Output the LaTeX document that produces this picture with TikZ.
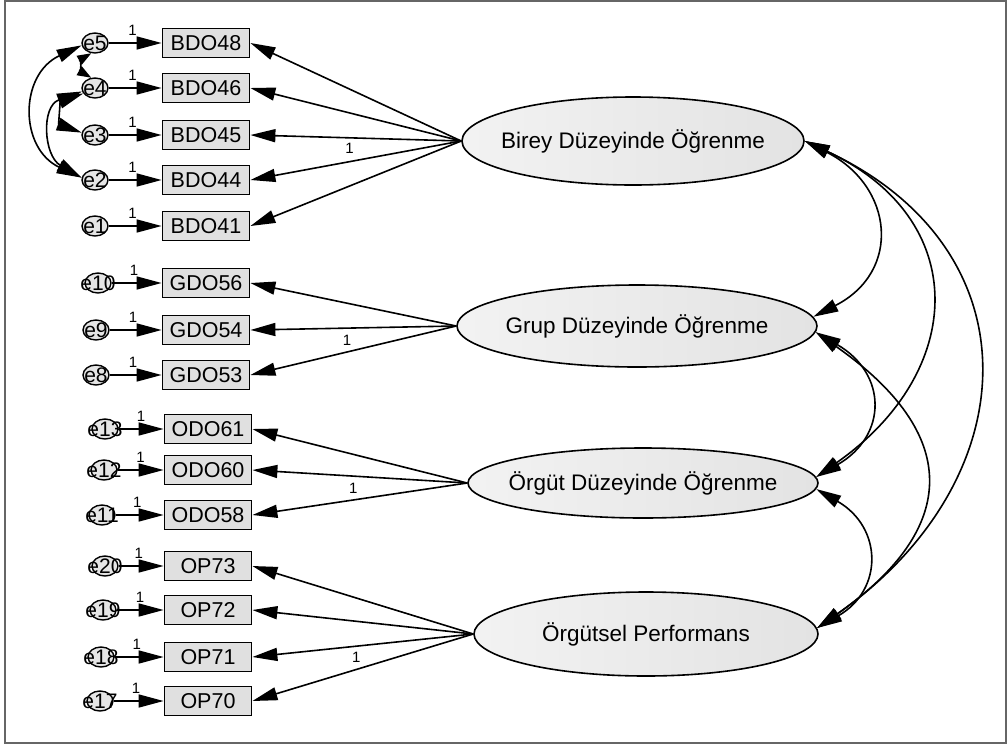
\documentclass[tikz,border=0pt]{standalone}
\usepackage{fontspec}
\setmainfont{Liberation Sans}
\usetikzlibrary{shapes.geometric, arrows.meta}

\begin{document}
\begin{tikzpicture}[
    x=1pt, y=1pt,
    obsbox/.style={draw, rectangle, line width=1.8pt, fill=gray!24, minimum width=87pt, minimum height=29pt, inner sep=0pt, font=\fontsize{21.5}{25}\selectfont},
    lattext/.style={font=\fontsize{22.5}{27}\selectfont, inner sep=0pt},
    latent/.style={draw, ellipse, line width=1.6pt, left color=gray!10, right color=gray!22, inner sep=0pt, label={[lattext]center:#1}},
    errtext/.style={font=\fontsize{21}{25}\selectfont, inner sep=0pt},
    errnode/.style={draw, ellipse, line width=1.4pt, fill=gray!20, minimum width=26pt, minimum height=20pt, inner sep=0pt, label={[errtext]center:#1}},
    loading/.style={-{Triangle[length=25pt, width=13pt]}, line width=1.6pt},
    covar/.style={{Triangle[length=25pt, width=13pt]}-{Triangle[length=25pt, width=13pt]}, line width=1.6pt},
    shortcovar/.style={{Triangle[length=14pt, width=10pt]}-{Triangle[length=14pt, width=10pt]}, line width=1.6pt},
    one/.style={font=\fontsize{15}{17}\selectfont, inner sep=1pt}
  ]
    \useasboundingbox (0,0) rectangle (1007,-745);
    \draw[gray!80!black, line width=1.5pt] (5,-1) rectangle (1006,-743);

    % latent variables
    \node[latent={Birey Düzeyinde Öğrenme}, minimum width=342pt, minimum height=88pt] (bir) at (633,-141) {};
    \node[latent={Grup Düzeyinde Öğrenme}, minimum width=360pt, minimum height=82pt] (grp) at (637,-326) {};
    \node[latent={Örgüt Düzeyinde Öğrenme}, minimum width=350pt, minimum height=70pt] (org) at (643,-483) {};
    \node[latent={Örgütsel Performans}, minimum width=344pt, minimum height=84pt] (perf) at (646,-634) {};

    % observed variables
    \node[obsbox] (bdo48) at (206,-43)  {BDO48};
    \node[obsbox] (bdo46) at (206,-88)  {BDO46};
    \node[obsbox] (bdo45) at (206,-135) {BDO45};
    \node[obsbox] (bdo44) at (206,-180) {BDO44};
    \node[obsbox] (bdo41) at (206,-226) {BDO41};
    \node[obsbox] (gdo56) at (206,-283) {GDO56};
    \node[obsbox] (gdo54) at (206,-330) {GDO54};
    \node[obsbox] (gdo53) at (206,-375) {GDO53};
    \node[obsbox] (odo61) at (208,-429) {ODO61};
    \node[obsbox] (odo60) at (208,-470) {ODO60};
    \node[obsbox] (odo58) at (208,-515) {ODO58};
    \node[obsbox] (op73)  at (208,-566) {OP73};
    \node[obsbox] (op72)  at (208,-610) {OP72};
    \node[obsbox] (op71)  at (208,-657) {OP71};
    \node[obsbox] (op70)  at (208,-701) {OP70};

    % error terms
    \node[errnode=e5]  (e5)  at (95,-43)  {};
    \node[errnode=e4]  (e4)  at (95,-88)  {};
    \node[errnode=e3]  (e3)  at (95,-135) {};
    \node[errnode=e2]  (e2)  at (95,-180) {};
    \node[errnode=e1]  (e1)  at (95,-226) {};
    \node[errnode=e10] (e10) at (98,-283)  {};
    \node[errnode=e9]  (e9)  at (96,-330)  {};
    \node[errnode=e8]  (e8)  at (96,-375)  {};
    \node[errnode=e13] (e13) at (105,-429) {};
    \node[errnode=e12] (e12) at (104,-470) {};
    \node[errnode=e11] (e11) at (102,-515) {};
    \node[errnode=e20] (e20) at (105,-566) {};
    \node[errnode=e19] (e19) at (103,-610) {};
    \node[errnode=e18] (e18) at (101,-657) {};
    \node[errnode=e17] (e17) at (100,-701) {};

    % error -> indicator
    \draw[loading] (e5)  -- node[one, pos=0.45, above=6pt] {1} (bdo48);
    \draw[loading] (e4)  -- node[one, pos=0.45, above=6pt] {1} (bdo46);
    \draw[loading] (e3)  -- node[one, pos=0.45, above=6pt] {1} (bdo45);
    \draw[loading] (e2)  -- node[one, pos=0.45, above=6pt] {1} (bdo44);
    \draw[loading] (e1)  -- node[one, pos=0.45, above=6pt] {1} (bdo41);
    \draw[loading] (e10) -- node[one, pos=0.45, above=6pt] {1} (gdo56);
    \draw[loading] (e9)  -- node[one, pos=0.45, above=6pt] {1} (gdo54);
    \draw[loading] (e8)  -- node[one, pos=0.45, above=6pt] {1} (gdo53);
    \draw[loading] (e13) -- node[one, pos=0.5, above=6pt] {1} (odo61);
    \draw[loading] (e12) -- node[one, pos=0.5, above=6pt] {1} (odo60);
    \draw[loading] (e11) -- node[one, pos=0.45, above=6pt] {1} (odo58);
    \draw[loading] (e20) -- node[one, pos=0.45, above=6pt] {1} (op73);
    \draw[loading] (e19) -- node[one, pos=0.5, above=6pt] {1} (op72);
    \draw[loading] (e18) -- node[one, pos=0.45, above=6pt] {1} (op71);
    \draw[loading] (e17) -- node[one, pos=0.45, above=6pt] {1} (op70);

    % latent -> indicator
    \draw[loading] (bir.west) -- (bdo48.east);
    \draw[loading] (bir.west) -- (bdo46.east);
    \draw[loading] (bir.west) -- (bdo45.east);
    \draw[loading] (bir.west) -- node[one, pos=0.53, above=6pt] {1} (bdo44.east);
    \draw[loading] (bir.west) -- (bdo41.east);
    \draw[loading] (grp.west) -- (gdo56.east);
    \draw[loading] (grp.west) -- (gdo54.east);
    \draw[loading] (grp.west) -- node[one, pos=0.53, above=5pt] {1} (gdo53.east);
    \draw[loading] (org.west) -- (odo61.east);
    \draw[loading] (org.west) -- (odo60.east);
    \draw[loading] (org.west) -- node[one, pos=0.53, above=5pt] {1} (odo58.east);
    \draw[loading] (perf.west) -- (op73.east);
    \draw[loading] (perf.west) -- (op72.east);
    \draw[loading] (perf.west) -- (op71.east);
    \draw[loading] (perf.west) -- node[one, pos=0.53, above=5pt] {1} (op70.east);

    % covariances between latents
    \draw[covar] (bir.east) to[out=-27, in=27, looseness=1.45] (grp.3);
    \draw[covar] (bir.east) to[out=-25, in=35, looseness=1.4]  (org.2);
    \draw[covar] (bir.east) to[out=-25, in=35, looseness=1.35] (perf.2);
    \draw[covar] (grp.-2)   to[out=-30, in=30, looseness=1.46] (org.2);
    \draw[covar] (grp.-2)   to[out=-35, in=35, looseness=1.52] (perf.2);
    \draw[covar] (org.-2)   to[out=-30, in=30, looseness=1.41] (perf.2);

    % covariances between errors
    \draw[covar] (e5.190) to[out=205, in=155, looseness=1.34] (e2.170);
    \draw[covar] (e4.195) to[out=200, in=150, looseness=1.3]  (e2.170);
    \draw[covar] (e4.205) to[out=200, in=160, looseness=1.6]  (e3.170);
    \draw[shortcovar] (e5.-110) to[out=-150, in=150, looseness=1.2] (e4.110);
\end{tikzpicture}
\end{document}
